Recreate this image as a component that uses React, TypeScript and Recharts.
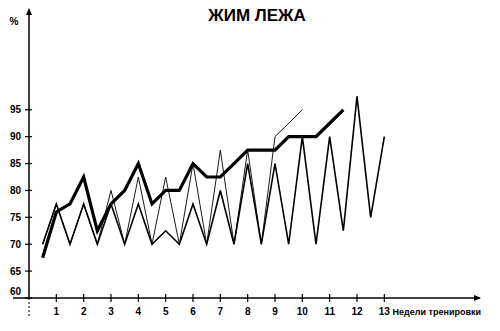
import React from 'react';
import { LineChart, Line, XAxis, YAxis } from 'recharts';

// weeks are sampled every half week
const thickWeeks = [0.5, 1, 1.5, 2, 2.5, 3, 3.5, 4, 4.5, 5, 5.5, 6, 6.5, 7, 7.5, 8, 8.5, 9, 9.5, 10, 10.5, 11, 11.5];
const thickValues = [67.5, 76, 77.5, 82.5, 72.5, 77.5, 80, 85, 77.5, 80, 80, 85, 82.5, 82.5, 85, 87.5, 87.5, 87.5, 90, 90, 90, 92.5, 95];

const thinWeeks = [0.5, 1, 1.5, 2, 2.5, 3, 3.5, 4, 4.5, 5, 5.5, 6, 6.5, 7, 7.5, 8, 8.5, 9, 10];
const thinValues = [70, 77.5, 70, 77.5, 70, 80, 70, 82.5, 70, 82.5, 70, 85, 70, 87.5, 70, 87.5, 70, 90, 95];

const zigWeeks = [0.5, 1, 1.5, 2, 2.5, 3, 3.5, 4, 4.5, 5, 5.5, 6, 6.5, 7, 7.5, 8, 8.5, 9, 9.5, 10, 10.5, 11, 11.5, 12, 12.5, 13];
const zigValues = [70, 77.5, 70, 77.5, 70, 77.5, 70, 77.5, 70, 72.5, 70, 77.5, 70, 80, 70, 85, 70, 85, 70, 90, 70, 90, 72.5, 97.5, 75, 90];

const xTicks = [1, 2, 3, 4, 5, 6, 7, 8, 9, 10, 11, 12, 13];
const yTicks = [60, 65, 70, 75, 80, 85, 90, 95];

const toPoints = (weeks: number[], values: number[]) =>
    weeks.map((w, i) => ({ w, v: values[i] }));

const thickData = toPoints(thickWeeks, thickValues);
const thinData = toPoints(thinWeeks, thinValues);
const zigData = toPoints(zigWeeks, zigValues);

const INK = '#000';
const FONT = '"Liberation Sans", Arial, sans-serif';

const YTick = (props: any) => {
    const { x, y, payload } = props;
    const lift = payload.value === 60 ? -7 : 0;
    return (
        <g>
            <line x1={x - 4} x2={x + 3} y1={y} y2={y} stroke={INK} strokeWidth={1.2} />
            <text
                x={x - 8}
                y={y + lift}
                dy={3.5}
                textAnchor="end"
                fontSize={10}
                fontWeight="bold"
                fontFamily={FONT}
                fill={INK}
            >
                {payload.value}
            </text>
        </g>
    );
};

const XTick = (props: any) => {
    const { x, y, payload } = props;
    return (
        <g>
            <line x1={x} x2={x} y1={y - 4} y2={y + 4} stroke={INK} strokeWidth={1.2} />
            <text
                x={x}
                y={y + 17}
                textAnchor="middle"
                fontSize={10}
                fontWeight="bold"
                fontFamily={FONT}
                fill={INK}
            >
                {payload.value}
            </text>
        </g>
    );
};

const YDecor = (props: any) => {
    const { x, y, width, height } = props.viewBox;
    const ax = x + width;
    return (
        <g>
            <polygon points={`${ax - 3},${y + 2} ${ax + 3},${y + 2} ${ax},${y - 5}`} fill={INK} />
            <line x1={ax} x2={ax} y1={y + height} y2={y + height + 20} stroke={INK} strokeWidth={1} strokeDasharray="2 2" />
            <text x={ax - 15} y={y + 12} textAnchor="middle" fontSize={10} fontWeight="bold" fontFamily={FONT} fill={INK}>
                %
            </text>
        </g>
    );
};

const XDecor = (props: any) => {
    const { x, y, width } = props.viewBox;
    const end = x + width;
    return (
        <g>
            <line x1={x - 16} x2={x} y1={y} y2={y} stroke={INK} strokeWidth={1.5} />
            <polygon points={`${end - 6},${y - 3} ${end - 6},${y + 3} ${end + 1},${y}`} fill={INK} />
            <text x={end + 1} y={y + 17} textAnchor="end" fontSize={9} fontWeight="bold" fontFamily={FONT} fill={INK}>
                Недели тренировки
            </text>
        </g>
    );
};

export default function App() {
    return (
        <div style={{ position: 'absolute', left: 0, top: 0, width: 500, height: 331, background: '#fff' }}>
            <div
                style={{
                    position: 'absolute',
                    top: 6,
                    left: 0,
                    width: 514,
                    textAlign: 'center',
                    fontFamily: FONT,
                    fontWeight: 'bold',
                    fontSize: 17,
                    color: INK,
                }}
            >
                ЖИМ ЛЕЖА
            </div>
            <LineChart width={500} height={331} margin={{ top: 13, right: 20, left: 0, bottom: 0 }}>
                <XAxis
                    type="number"
                    dataKey="w"
                    domain={[0, 16.5]}
                    ticks={xTicks}
                    interval={0}
                    height={33}
                    tickSize={0}
                    tickMargin={0}
                    tick={<XTick />}
                    tickLine={false}
                    axisLine={{ stroke: INK, strokeWidth: 1.5 }}
                    label={<XDecor />}
                />
                <YAxis
                    type="number"
                    domain={[60, 113]}
                    ticks={yTicks}
                    interval={0}
                    width={29}
                    tickSize={0}
                    tickMargin={0}
                    tick={<YTick />}
                    tickLine={false}
                    axisLine={{ stroke: INK, strokeWidth: 1.5 }}
                    label={<YDecor />}
                />
                <Line
                    data={zigData}
                    dataKey="v"
                    type="linear"
                    stroke={INK}
                    strokeWidth={1.6}
                    dot={false}
                    isAnimationActive={false}
                />
                <Line
                    data={thinData}
                    dataKey="v"
                    type="linear"
                    stroke={INK}
                    strokeWidth={0.9}
                    dot={false}
                    isAnimationActive={false}
                />
                <Line
                    data={thickData}
                    dataKey="v"
                    type="linear"
                    stroke={INK}
                    strokeWidth={3.2}
                    dot={false}
                    isAnimationActive={false}
                />
            </LineChart>
        </div>
    );
}
